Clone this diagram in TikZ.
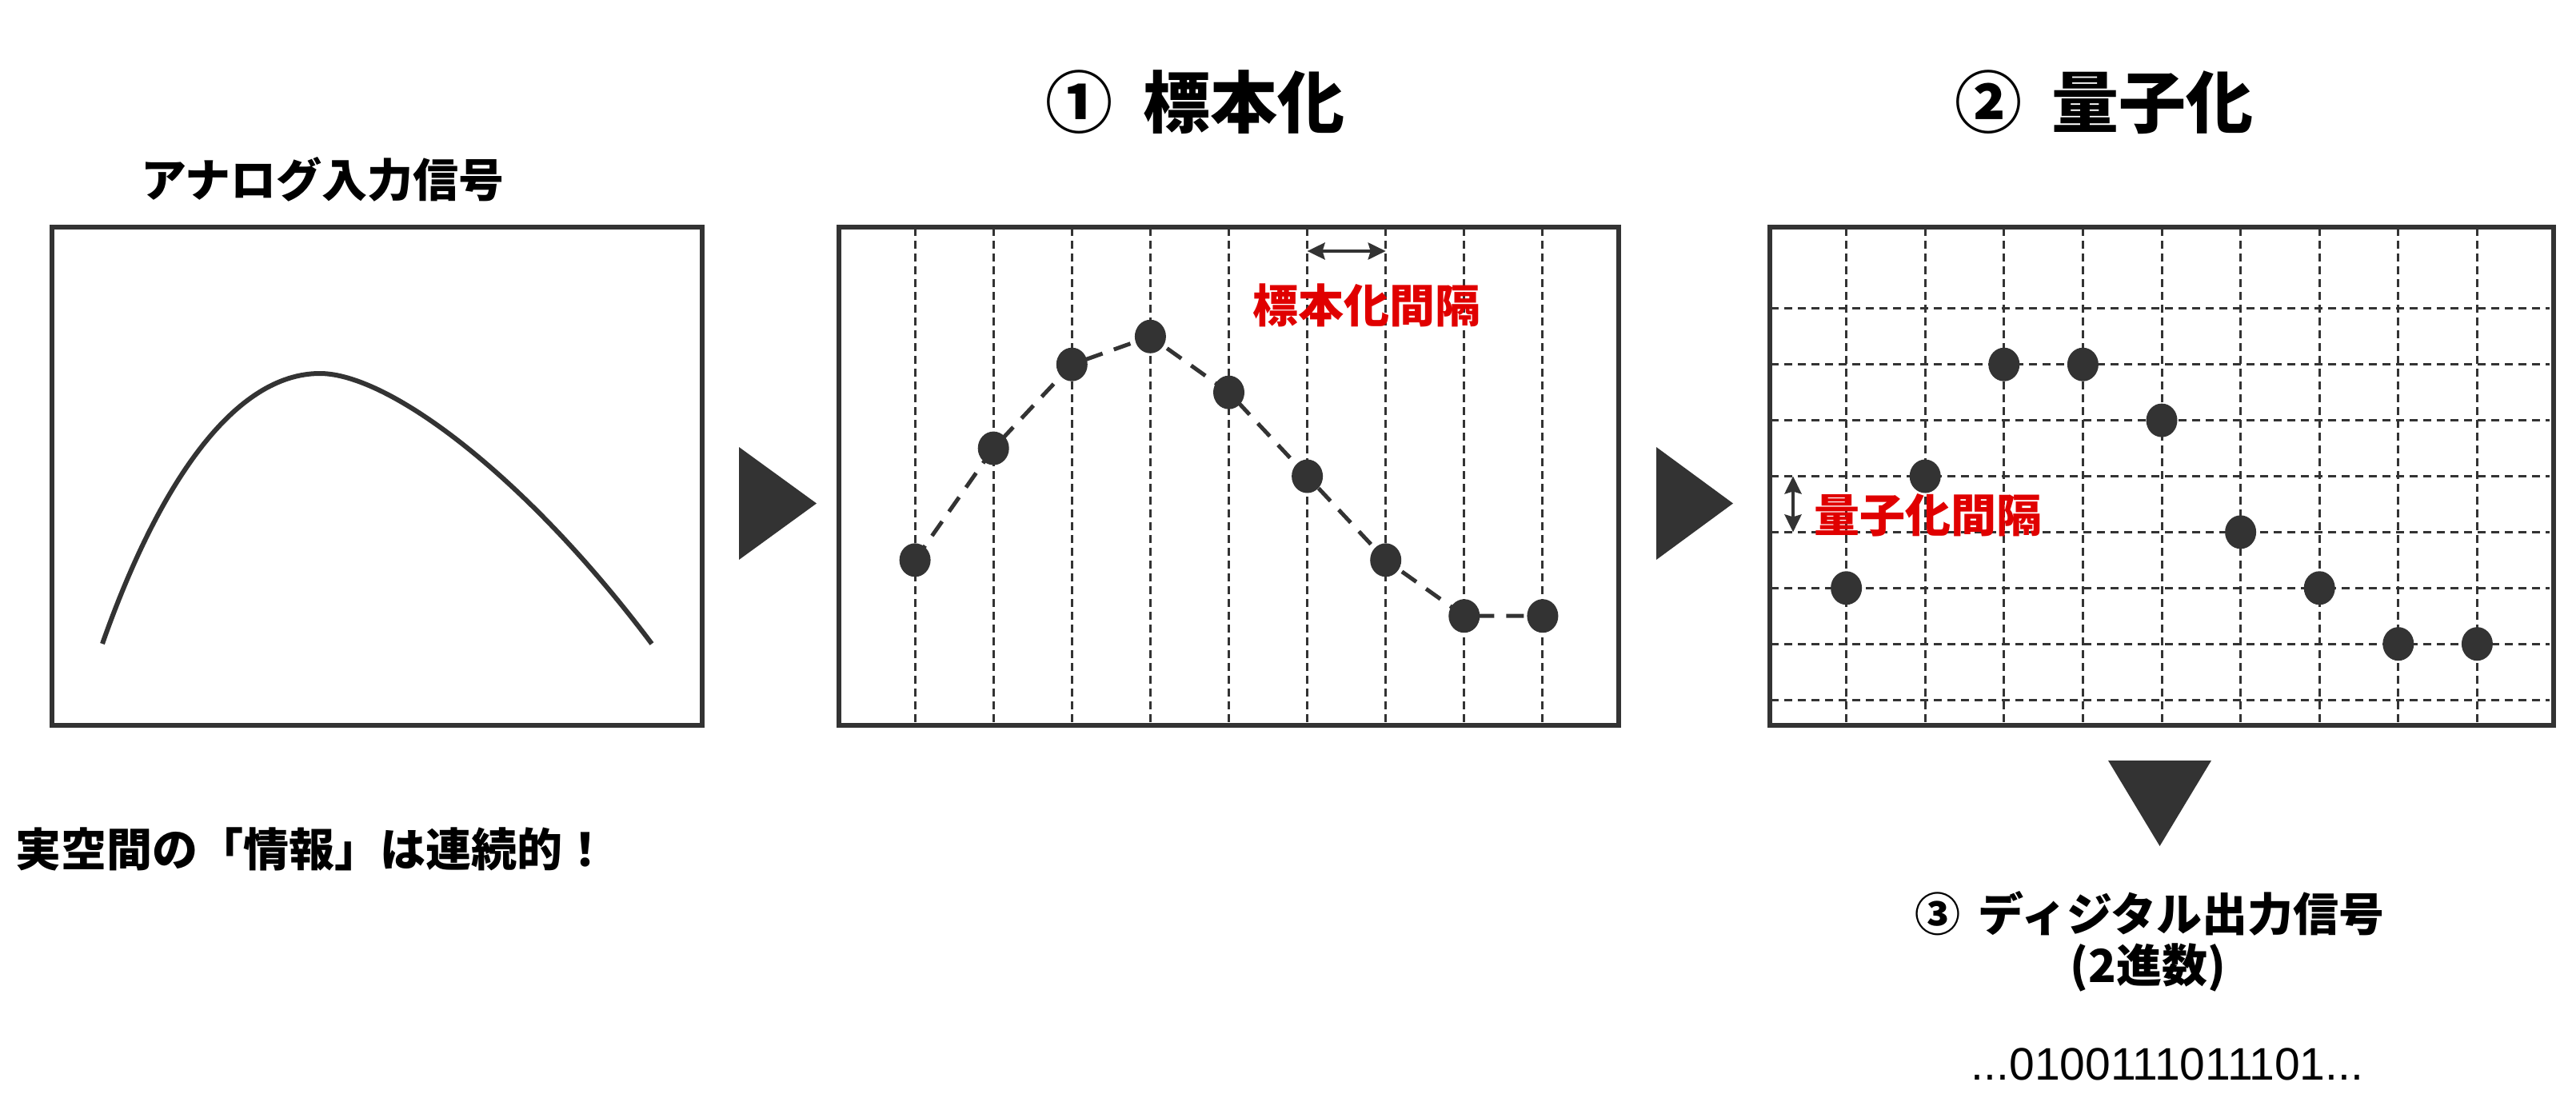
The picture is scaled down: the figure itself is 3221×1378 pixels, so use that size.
\documentclass[tikz,border=0pt]{standalone}
\usepackage{fontspec}
\setmainfont{Noto Sans CJK JP}
\newfontfamily\latinfont{Liberation Sans}
\usetikzlibrary{arrows.meta,shapes.geometric}
\definecolor{ink}{HTML}{333333}
\definecolor{lblred}{RGB}{224,0,0}
\pgfdeclarelayer{bg}
\pgfsetlayers{bg,main}
\begin{document}
\begin{tikzpicture}[x=1pt,y=-1pt,
  panel/.style={draw=ink, line width=6pt, rectangle, inner sep=0pt},
  vgrid/.style={draw=ink, line width=3pt, dash pattern=on 10pt off 6pt},
  hgrid/.style={draw=ink, line width=3pt, dash pattern=on 10pt off 7pt},
  sdot/.style={ellipse, fill=ink, minimum width=39pt, minimum height=42pt, inner sep=0pt},
  conn/.style={draw=ink, line width=5pt, dash pattern=on 22pt off 15pt},
  bigtxt/.style={font=\fontsize{84pt}{90pt}\selectfont\bfseries, inner sep=0pt},
  txt/.style={font=\fontsize{57pt}{62pt}\selectfont\bfseries, inner sep=0pt},
  redtxt/.style={txt, text=lblred},
  dimarrow/.style={draw=ink, line width=4pt, {Stealth[length=22pt,width=21pt,inset=3pt]}-{Stealth[length=22pt,width=21pt,inset=3pt]}},
]
\useasboundingbox (0,0) rectangle (3221,1378);

% panels
\node[panel, minimum width=813pt, minimum height=623pt] (box1) at (471.5,595.5) {};
\node[panel, minimum width=975pt, minimum height=623pt] (box2) at (1536.5,595.5) {};
\node[panel, minimum width=980pt, minimum height=623pt] (box3) at (2703,595.5) {};

% analog curve
\draw[ink, line width=6pt] (128,805) .. controls (200,600) and (295,467) .. (400,467)
  .. controls (485,467) and (655,592) .. (815,805);

% sampling grid
\foreach \k in {1,...,9} \draw[vgrid] (1046+\k*98.1,285) -- (1046+\k*98.1,906);
\foreach \k/\f in {1/6,2/4,3/2.5,4/2,5/3,6/4.5,7/6,8/7,9/7}
  \node[sdot] (s\k) at (1046+\k*98.1,281+\f*69.89) {};
\begin{pgfonlayer}{bg}
\draw[conn] (s1.center) -- (s2.center) -- (s3.center) -- (s4.center) -- (s5.center) -- (s6.center) -- (s7.center) -- (s8.center) -- (s9.center);
\end{pgfonlayer}

% quantization grid
\foreach \k in {1,...,9} \draw[vgrid] (2210+\k*98.6,285) -- (2210+\k*98.6,906);
\foreach \j in {1.5,2.5,...,8.5} \draw[hgrid] (2214,281+\j*69.89) -- (3188,281+\j*69.89);
\foreach \k/\f in {1/6.5,2/4.5,3/2.5,4/2.5,5/3.5,6/5.5,7/6.5,8/7.5,9/7.5}
  \node[sdot] (q\k) at (2210+\k*98.6,281+\f*69.89) {};

% dimension arrows
\coordinate (sa1) at (1634.6,314);
\coordinate (sa2) at (1732.7,314);
\draw[dimarrow] (sa1) -- (sa2);
\coordinate (qa1) at (2242,595.5);
\coordinate (qa2) at (2242,665.4);
\draw[dimarrow] (qa1) -- (qa2);

% process triangles
\fill[ink] (924,559) -- (1021,629.5) -- (924,700) -- cycle;
\fill[ink] (2071,559) -- (2167,629.5) -- (2071,700) -- cycle;
\fill[ink] (2636,951) -- (2765,951) -- (2700.5,1058) -- cycle;

% texts
\node[txt] (tanalog) at (403.5,224) {アナログ入力信号};
\node[bigtxt] (tsamp) at (1494.5,128) {①\hspace{0.45em}標本化};
\node[bigtxt] (tquant) at (2631,128) {②\hspace{0.45em}量子化};
\node[redtxt] (lsamp) at (1709,382) {標本化間隔};
\node[redtxt] (lquant) at (2411,644) {量子化間隔};
\node[txt] (tcont) at (390,1062) {実空間の「情報」は連続的！};
\node[txt] (tdig) at (2688,1142) {③\hspace{0.4em}ディジタル出力信号};
\node[txt] (tbin) at (2686,1210) {(2進数)};
\node[font=\latinfont\fontsize{57pt}{62pt}\selectfont, inner sep=0pt] (tbits) at (2710,1331) {...0100111011101...};
\end{tikzpicture}
\end{document}
